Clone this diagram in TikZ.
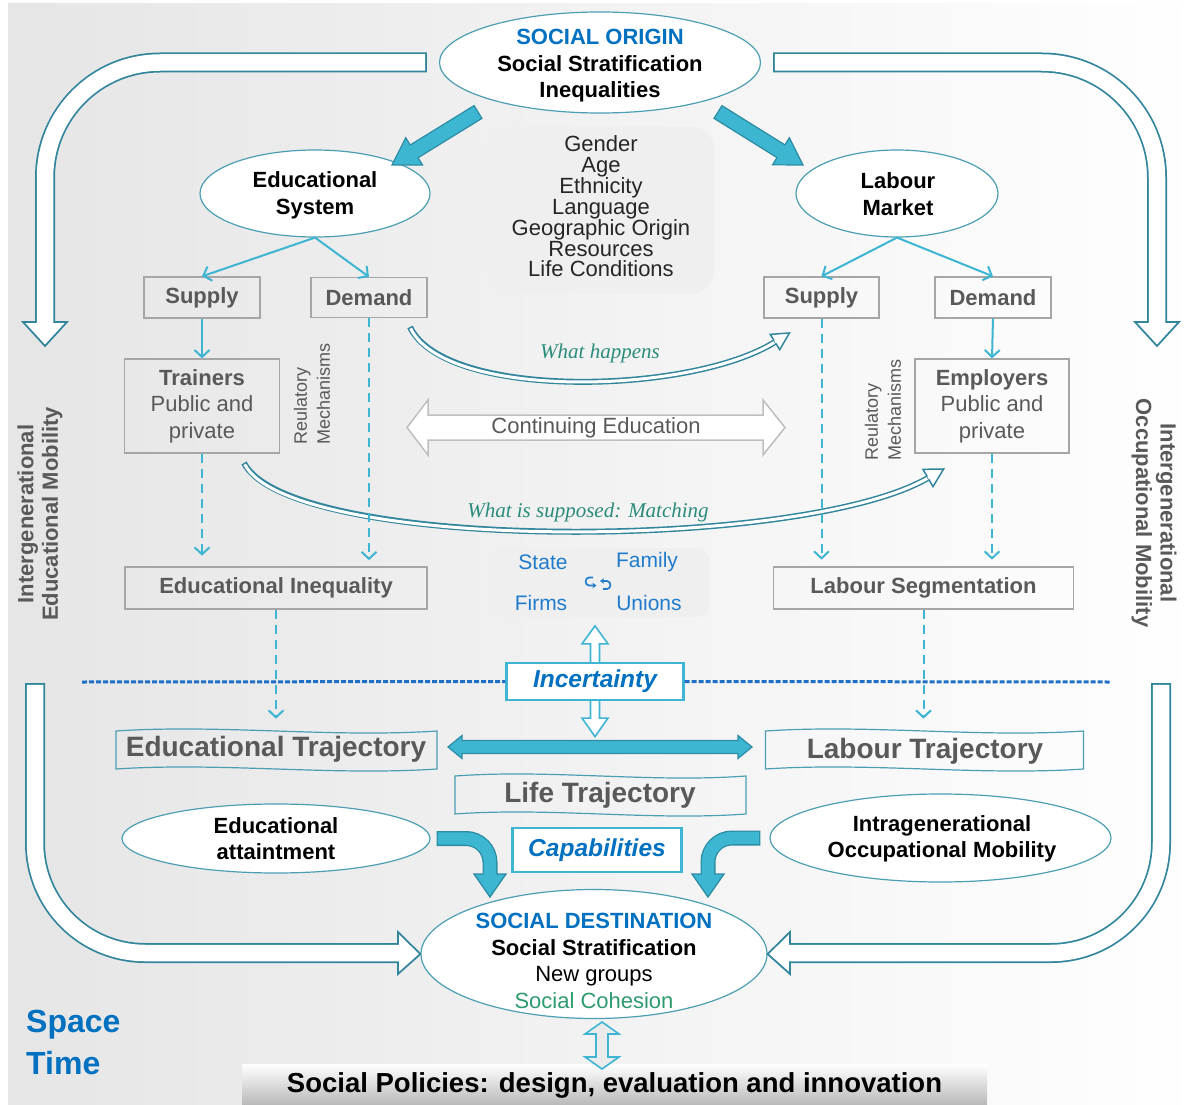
\documentclass[tikz,border=0pt]{standalone}
\usepackage{fontspec}
\setmainfont{Liberation Sans}
\newfontfamily\garfont{Liberation Serif}
\usetikzlibrary{shapes.geometric,arrows.meta,calc}
\newcommand\fsz[2]{\fontsize{#1}{#2}\selectfont}
\definecolor{tealdk}{HTML}{31859C}
\definecolor{arrblue}{HTML}{3DB5D3}
\definecolor{fatfill}{HTML}{3DB6D1}
\definecolor{fatline}{HTML}{2C8CA3}
\definecolor{txtblue}{HTML}{0070C0}
\definecolor{txtgray}{HTML}{595959}
\definecolor{boxgray}{HTML}{A6A6A6}
\definecolor{ellline}{HTML}{4C9FB3}
\definecolor{italgreen}{HTML}{2A8C7C}
\definecolor{cohesion}{HTML}{2E9B6F}
\definecolor{lightbox}{HTML}{EFEFEF}
\definecolor{dashblue}{HTML}{1F6FC6}
\definecolor{actorblue}{HTML}{1F7BCB}
\newcommand\fatarr[5]{%
 \coordinate (fa0) at #1; \coordinate (fa1) at #2;
 \coordinate (fab) at ($(fa1)!#5!(fa0)$);
 \filldraw[fill=fatfill, draw=fatline, line width=1.2pt, line join=miter]
 ($(fa0)!#3!90:(fa1)$) -- ($(fab)!#3!-90:(fa0)$) -- ($(fab)!#4!-90:(fa0)$) -- (fa1) --
 ($(fab)!#4!90:(fa0)$) -- ($(fab)!#3!90:(fa0)$) -- ($(fa0)!#3!-90:(fa1)$) -- cycle;}
\newcommand\banner[4]{%
 \draw[draw=ellline, line width=1.2pt] (#1,#2) .. controls ($(#1,#2)!0.33!(#3,#2)+(0,-7)$) and ($(#1,#2)!0.67!(#3,#2)+(0,7)$) .. (#3,#2)
 -- (#3,#4) .. controls ($(#1,#4)!0.67!(#3,#4)+(0,7)$) and ($(#1,#4)!0.33!(#3,#4)+(0,-7)$) .. (#1,#4) -- cycle;}
\begin{document}
\begin{tikzpicture}[x=1pt,y=-1pt,
 box/.style={draw=boxgray, line width=1.3pt, inner sep=0pt, font=\bfseries\fsz{22}{26}, text=txtgray, align=center},
 ell/.style={ellipse, draw=ellline, line width=1.2pt, fill=white, inner sep=0pt},
 thinarr/.style={draw=arrblue, line width=2pt, -{Straight Barb[length=7pt,width=15pt]}},
 dasharr/.style={thinarr, dash pattern=on 9pt off 6pt},
 lbl/.style={inner sep=0pt, align=center},
 sepline/.style={draw=dashblue, line width=3pt, dash pattern=on 5pt off 2pt},
 hollowarr/.style={fill=white, draw=arrblue, line width=1.6pt, line join=miter},
 headtri/.style={fill=white, draw=tealdk, line width=1.75pt, line join=miter},
 capbox/.style={draw=arrblue, line width=2.2pt, fill=white, inner sep=0pt, font=\bfseries\itshape\fsz{24.5}{26}, text=txtblue},
 trajtxt/.style={lbl, font=\bfseries\fsz{28}{30}, text=txtgray},
 whatit/.style={lbl, font=\garfont\itshape\fsz{21}{24}, text=italgreen},
 sidetxt/.style={lbl, font=\bfseries\fsz{22}{24.5}, text=txtgray},
 regtxt/.style={inner sep=0pt, align=left, font=\fsz{18}{23}, text=txtgray}
]
\useasboundingbox (0,0) rectangle (1203,1105);
\shade[left color=black!10, right color=white] (8,4) rectangle (1203,1105);

% ---------- ellipses ----------
\node[ell, minimum width=321pt, minimum height=101pt] (origin) at (600,62.5) {};
\node[lbl, font=\bfseries\fsz{22}{26.5}] (origintxt) at (600,66) {\textcolor{txtblue}{SOCIAL ORIGIN}\\Social Stratification\\Inequalities};
\node[ell, minimum width=230pt, minimum height=87pt] (edusys) at (315,193.5) {};
\node[lbl, font=\bfseries\fsz{22}{27}] (edusystxt) at (315,195) {Educational\\System};
\node[ell, minimum width=202pt, minimum height=87pt] (labmkt) at (897,193.5) {};
\node[lbl, font=\bfseries\fsz{22}{27}] (labmkttxt) at (898,194) {Labour\\Market};

% ---------- big U-shaped hollow arrows ----------
\coordinate (ul0) at ($(origin.west)+(-12,0)$);
\draw[tealdk, line width=20pt, rounded corners=115pt] (ul0) -- (45,62.5) -- (45,322);
\filldraw[headtri] (23,322) -- (67,322) -- (45,346) -- cycle;
\draw[white, line width=16.5pt, rounded corners=115pt, shorten <=1.75pt] (ul0) -- (45,62.5) -- (45,324);

\coordinate (ur0) at ($(origin.east)+(12,0)$);
\draw[tealdk, line width=20pt, rounded corners=115pt] (ur0) -- (1157,62.5) -- (1157,322);
\filldraw[headtri] (1135,322) -- (1179,322) -- (1157,346) -- cycle;
\draw[white, line width=16.5pt, rounded corners=115pt, shorten <=1.75pt] (ur0) -- (1157,62.5) -- (1157,324);

% ---------- factors box ----------
\node[fill=lightbox, rounded corners=22pt, minimum width=228pt, minimum height=166pt, inner sep=0pt] (factors) at (600,210) {};
\node[lbl, font=\fsz{22}{20.5}, text=black!85] (factorstxt) at (601,206.5) {Gender\\Age\\Ethnicity\\Language\\Geographic Origin\\Resources\\Life Conditions};

% ---------- fat arrows from origin ----------
\fatarr{(478,112)}{(392,165)}{7.5pt}{16pt}{26pt}
\fatarr{(718,112)}{(803,165)}{7.5pt}{16pt}{26pt}

% ---------- supply / demand ----------
\node[box, minimum width=116pt, minimum height=41pt] (supL) at (202,297.5) {Supply};
\node[box, minimum width=116pt, minimum height=40pt] (demL) at (369,297.5) {Demand};
\node[box, minimum width=115pt, minimum height=41pt] (supR) at (821.5,297.5) {Supply};
\node[box, minimum width=116pt, minimum height=41pt] (demR) at (993,297.5) {Demand};
\draw[thinarr] (edusys.south) -- (supL.north);
\draw[thinarr] (edusys.south) -- (demL.north);
\draw[thinarr] (labmkt.south) -- (supR.north);
\draw[thinarr] (labmkt.south) -- (demR.north);

\node[box, minimum width=155pt, minimum height=94pt, font=\fsz{22}{26.5}] (trainers) at (202,406) {\textbf{Trainers}\\Public and\\private};
\node[box, minimum width=154pt, minimum height=94pt, font=\fsz{22}{26.5}] (employers) at (992,406) {\textbf{Employers}\\Public and\\private};
\draw[thinarr] (supL.south) -- (trainers.north);
\draw[thinarr] (demR.south) -- (employers.north);

\node[regtxt, rotate=90] (regL) at (312,394) {Reulatory\\Mechanisms};
\node[regtxt, rotate=90] (regR) at (883,410) {Reulatory\\Mechanisms};

% ---------- continuing education ----------
\filldraw[fill=white, draw=black!25, line width=1.5pt, line join=miter] (407,427.5) -- (428,400) -- (428,415) -- (763,415) -- (763,400) -- (785,427.5) -- (763,455) -- (763,440) -- (428,440) -- (428,455) -- cycle;
\node[lbl, font=\fsz{22}{24}, text=black!65] (contedu) at (596,427.5) {Continuing Education};

% ---------- what happens ----------
\coordinate (wh0) at (410,327); \coordinate (wh1) at (445,400);
\coordinate (wh2) at (690,395); \coordinate (wh3) at (775,342);
\draw[tealdk, line width=6pt] (wh0) .. controls (wh1) and (wh2) .. (wh3);
\draw[white, line width=3pt, shorten <=1.5pt] (wh0) .. controls (wh1) and (wh2) .. (wh3);
\coordinate (whtip) at ($(wh3)!-17pt!(wh2)$);
\filldraw[fill=white, draw=tealdk, line width=1.5pt, line join=miter] ($(wh3)!9pt!90:(whtip)$) -- (whtip) -- ($(wh3)!9pt!-90:(whtip)$) -- cycle;
\draw[white, line width=3pt] (wh3) -- ($(wh3)!2.5pt!(whtip)$);
\node[whatit] (whtxt) at (600,353) {What happens};

% ---------- what is supposed ----------
\coordinate (ws0) at (244,463); \coordinate (ws1) at (290,552);
\coordinate (ws2) at (800,552); \coordinate (ws3) at (928,478);
\draw[tealdk, line width=6pt] (ws0) .. controls (ws1) and (ws2) .. (ws3);
\draw[white, line width=3pt, shorten <=1.5pt] (ws0) .. controls (ws1) and (ws2) .. (ws3);
\coordinate (wstip) at ($(ws3)!-18pt!(ws2)$);
\filldraw[fill=white, draw=tealdk, line width=1.5pt, line join=miter] ($(ws3)!10pt!90:(wstip)$) -- (wstip) -- ($(ws3)!10pt!-90:(wstip)$) -- cycle;
\draw[white, line width=3pt] (ws3) -- ($(ws3)!2.5pt!(wstip)$);
\node[whatit] (wstxt) at (588,512) {What is supposed: Matching};

% ---------- inequality / segmentation ----------
\node[box, minimum width=302pt, minimum height=42pt] (eduineq) at (276,588) {Educational Inequality};
\node[box, minimum width=300pt, minimum height=42pt] (labseg) at (923.5,588) {Labour Segmentation};
\draw[dasharr] (trainers.south) -- ++(0,102);
\draw[dasharr] (demL.south) -- ++(0,242);
\draw[dasharr] (supR.south) -- ++(0,241);
\draw[dasharr] (employers.south) -- ++(0,106);

% ---------- actors ----------
\node[fill=lightbox, rounded corners=12pt, minimum width=219pt, minimum height=69pt, inner sep=0pt] (actors) at (600,582.5) {};
\node[lbl, font=\fsz{21}{24}, text=actorblue] (state) at (543,562) {State};
\node[lbl, font=\fsz{21}{24}, text=actorblue] (family) at (647,562) {Family};
\node[lbl, font=\fsz{21}{24}, text=actorblue] (firms) at (541,603) {Firms};
\node[lbl, font=\fsz{21}{24}, text=actorblue] (unions) at (649,603) {Unions};
\draw[actorblue, line width=1.6pt, -{Stealth[length=4pt,width=5.5pt]}] (593,577.5) -- (589,577.5) .. controls (584.5,577.5) and (584.5,585.5) .. (589,585.5) -- (596.5,585.5);
\draw[actorblue, line width=1.6pt, -{Stealth[length=4pt,width=5.5pt]}] (603,589) -- (607,589) .. controls (611.5,589) and (611.5,581) .. (607,581) -- (600,581);

% ---------- incertainty ----------
\node[capbox, minimum width=177pt, minimum height=37pt] (incert) at (595,681.5) {Incertainty};
\filldraw[hollowarr] ($(incert.north)+(-4.5,0)$) -- ++(0,-18) -- ++(-8.5,0) -- ($(incert.north)+(0,-36)$) -- ($(incert.north)+(13,-18)$) -- ++(-8.5,0) -- ($(incert.north)+(4.5,0)$);
\filldraw[hollowarr] ($(incert.south)+(-4.5,0)$) -- ++(0,17) -- ++(-8.5,0) -- ($(incert.south)+(0,35.5)$) -- ($(incert.south)+(13,17)$) -- ++(-8.5,0) -- ($(incert.south)+(4.5,0)$);
\draw[sepline] (82,682) -- (incert.west);
\draw[sepline] (incert.east) -- (1110,682);
\draw[dasharr] (eduineq.south) -- ++(0,109);
\draw[dasharr] (labseg.south) -- ++(0,109);

% ---------- trajectories ----------
\banner{116}{731}{437}{769}
\banner{765.5}{731}{1083.5}{769}
\banner{455}{776}{746}{814}
\node[trajtxt] (edutraj) at (276,749) {Educational Trajectory};
\node[trajtxt] (labtraj) at (925,751) {Labour Trajectory};
\node[trajtxt] (lifetraj) at (600,795) {Life Trajectory};
\filldraw[fill=fatfill, draw=fatline, line width=1.2pt, line join=miter] (448,747) -- (462,735.5) -- (462,740.5) -- (738,740.5) -- (738,735.5) -- (752,747) -- (738,758.5) -- (738,753.5) -- (462,753.5) -- (462,758.5) -- cycle;

\node[capbox, minimum width=169pt, minimum height=44pt] (capab) at (597,850) {Capabilities};

% ---------- attainment / mobility ----------
\node[ell, minimum width=308pt, minimum height=69pt] (attain) at (276,838.5) {};
\node[lbl, font=\bfseries\fsz{22}{26}] (attaintxt) at (276,838.5) {Educational\\attaintment};
\node[ell, minimum width=341pt, minimum height=88pt] (intra) at (940.5,838) {};
\node[lbl, font=\bfseries\fsz{22}{26}] (intratxt) at (942,838.5) {Intragenerational\\Occupational Mobility};

% ---------- destination ----------
\node[ell, minimum width=346pt, minimum height=129pt] (dest) at (594,954) {};
\node[lbl, font=\fsz{22}{26.7}] (desttxt) at (594,961) {\textcolor{txtblue}{\bfseries SOCIAL DESTINATION}\\\textbf{Social Stratification}\\New groups\\\textcolor{cohesion}{Social Cohesion}};

% curved fat arrows into destination
\coordinate (ca0) at ($(attain.east)+(6,0)$);
\draw[fatline, line width=15pt, rounded corners=24pt] (ca0) -| (490,874);
\filldraw[fill=fatfill, draw=fatline, line width=1.3pt, line join=miter] (474,874) -- (506,874) -- (490,897) -- cycle;
\draw[fatfill, line width=12.4pt, rounded corners=24pt, shorten <=1.3pt] (ca0) -| (490,875.5);
\coordinate (cb0) at ($(intra.west)+(-9,0)$);
\draw[fatline, line width=15pt, rounded corners=24pt] (cb0) -| (708,874);
\filldraw[fill=fatfill, draw=fatline, line width=1.3pt, line join=miter] (692,874) -- (724,874) -- (708,897) -- cycle;
\draw[fatfill, line width=12.4pt, rounded corners=24pt, shorten <=1.3pt] (cb0) -| (708,875.5);

% bottom U arrows
\coordinate (bl0) at (35,683);
\draw[tealdk, line width=20pt, rounded corners=110pt] (bl0) -- (35,953) -- (398,953);
\filldraw[headtri] (398,932) -- (398,974) -- (dest.west) -- cycle;
\draw[white, line width=16.5pt, rounded corners=110pt, shorten <=1.75pt] (bl0) -- (35,953) -- (400,953);
\coordinate (br0) at (1161,683);
\draw[tealdk, line width=20pt, rounded corners=110pt] (br0) -- (1161,953) -- (790,953);
\filldraw[headtri] (790,932) -- (790,974) -- (dest.east) -- cycle;
\draw[white, line width=16.5pt, rounded corners=110pt, shorten <=1.75pt] (br0) -- (1161,953) -- (788,953);

% ---------- side texts ----------
\node[sidetxt, rotate=90] (sideL) at (40,514) {Intergenerational\\Educational Mobility};
\node[sidetxt, rotate=-90] (sideR) at (1154,513) {Intergenerational\\Occupational Mobility};

% ---------- space / time ----------
\node[anchor=west, inner sep=0pt, font=\bfseries\fsz{32}{34}, text=txtblue] (space) at (26,1025) {Space};
\node[anchor=west, inner sep=0pt, font=\bfseries\fsz{32}{34}, text=txtblue] (time) at (26,1063) {Time};

% ---------- policies ----------
\node[top color=white, bottom color=black!28, minimum width=745pt, minimum height=41pt, inner sep=0pt] (policy) at (614.5,1085) {};
\node[lbl, font=\bfseries\fsz{27.5}{30}] (policytxt) at (614.5,1085) {Social Policies: design, evaluation and innovation};
\filldraw[fill=black!8, draw=arrblue, line width=1.6pt, line join=miter] (602,1022) -- (619,1034) -- (608,1034) -- (608,1057) -- (619,1057) -- (602,1069) -- (585,1057) -- (596,1057) -- (596,1034) -- (585,1034) -- cycle;
\end{tikzpicture}
\end{document}
